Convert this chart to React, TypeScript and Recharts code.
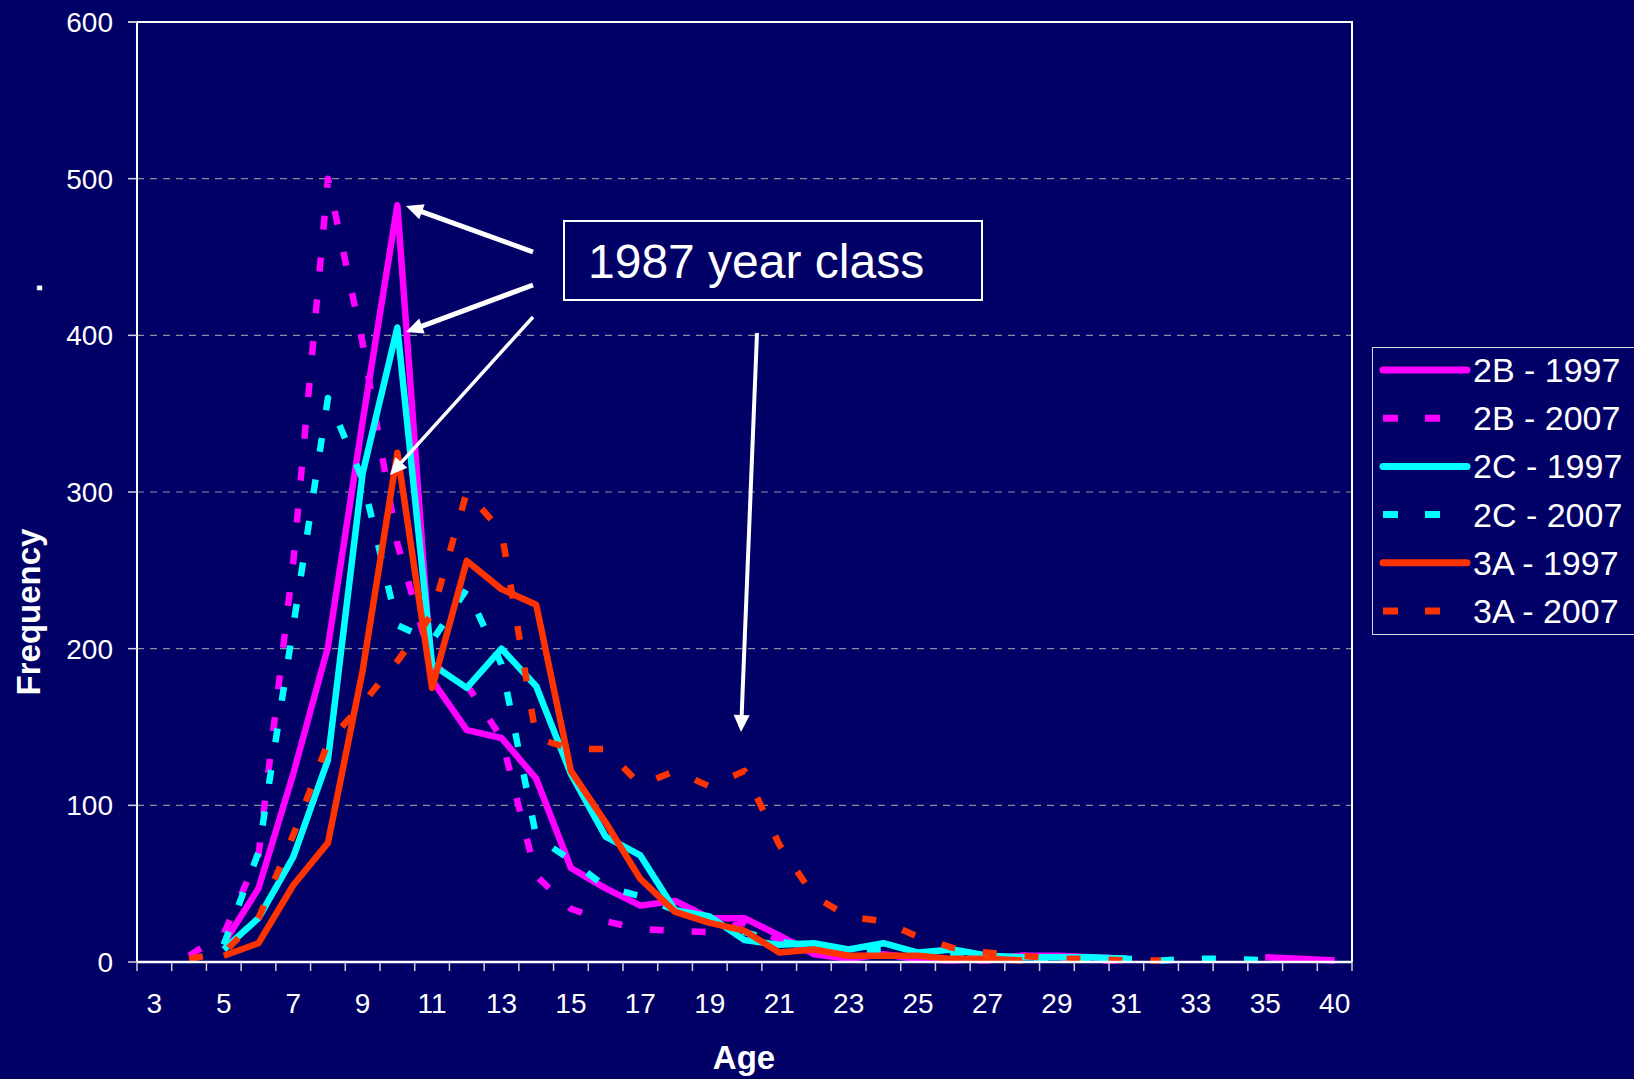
import { LineChart, Line, XAxis, YAxis, CartesianGrid, Legend } from "recharts";

// ages on the category axis (Excel sheet jumps from 36 to 40)
const ages = [3, 4, 5, 6, 7, 8, 9, 10, 11, 12, 13, 14, 15, 16, 17, 18, 19, 20, 21, 22, 23, 24, 25, 26, 27, 28, 29, 30, 31, 32, 33, 34, 35, 36, 40];

// frequency by age, one value per entry of `ages` (null = no point)
const b1997 = [null, null, 12, 47, 120, 201, 345, 483, 180, 148, 143, 117, 60, 47, 36, 39, 28, 28, 17, 5, 2, 5, 2, 1, 2, 4, 4, 3, 2, null, null, null, 3, 2, 1];
const b2007 = [null, 4, 18, 68, 255, 500, 395, 267, 190, 177, 143, 55, 34, 26, 21, 20, 19, 25, 14, 7, 3, 5, 2, 1, 1, 4, 3, 1, 1, null, null, null, null, null, null];
const c1997 = [null, null, 8, 28, 67, 129, 312, 405, 190, 175, 200, 176, 120, 80, 68, 33, 29, 14, 11, 12, 8, 12, 6, 8, 4, 3, 3, 3, 2, null, null, null, null, null, null];
const c2007 = [null, null, 11, 70, 214, 360, 308, 215, 205, 238, 190, 80, 65, 48, 42, 33, 28, 19, 13, 10, 7, 8, 4, 5, 3, 2, 2, 2, 2, 1, 2, 2, 1, null, null];
const a1997 = [null, null, 4, 12, 49, 76, 186, 325, 175, 256, 238, 228, 122, 89, 53, 32, 25, 20, 6, 8, 4, 4, 4, 2, 2, 1, null, null, null, null, null, null, null, null, null];
const a2007 = [null, 2, 6, 28, 81, 140, 165, 192, 222, 300, 275, 143, 136, 136, 113, 122, 112, 122, 75, 42, 29, 26, 16, 9, 6, 4, 2, 2, 1, 1, null, null, null, null, null];

const yTicks = [0, 100, 200, 300, 400, 500, 600];

const series = [
  { key: "b1997", name: "2B - 1997", color: "#FF00FF", dashed: false, values: b1997 },
  { key: "b2007", name: "2B - 2007", color: "#FF00FF", dashed: true, values: b2007 },
  { key: "c1997", name: "2C - 1997", color: "#00FFFF", dashed: false, values: c1997 },
  { key: "c2007", name: "2C - 2007", color: "#00FFFF", dashed: true, values: c2007 },
  { key: "a1997", name: "3A - 1997", color: "#FF3300", dashed: false, values: a1997 },
  { key: "a2007", name: "3A - 2007", color: "#FF3300", dashed: true, values: a2007 },
];

const data = ages.map((age, i) => {
  const row: Record<string, number | null> = { age };
  series.forEach((s) => {
    row[s.key] = s.values[i];
  });
  return row;
});

const W = 1634;
const H = 1079;
const BG = "#000066";
const FONT = "'Liberation Sans', Arial, Helvetica, sans-serif";
const PLOT_LEFT = 137;
const PLOT_RIGHT = 1352;
const PLOT_TOP = 22;
const PLOT_BOTTOM = 962;
const HALF = (PLOT_RIGHT - PLOT_LEFT) / ages.length / 2;
const DASH = "14 28";

// Excel style category ticks: marks between categories, every other label
function AgeTick(props: any) {
  const { x, y, payload, index } = props;
  const last = index === ages.length - 1;
  return (
    <g>
      <line x1={x - HALF} x2={x - HALF} y1={y} y2={y + 9} stroke="#d0d0dc" strokeWidth={1.5} />
      {last && <line x1={x + HALF} x2={x + HALF} y1={y} y2={y + 9} stroke="#d0d0dc" strokeWidth={1.5} />}
      {index % 2 === 0 && (
        <text x={x} y={y + 51} textAnchor="middle" fill="#ffffff" fontSize={28} fontFamily={FONT}>
          {payload.value}
        </text>
      )}
    </g>
  );
}

function LegendBox() {
  return (
    <div
      style={{
        width: 270,
        height: 288,
        boxSizing: "border-box",
        border: "1.5px solid #d8d8e0",
        background: BG,
      }}
    >
      <svg width={268} height={285}>
        {series.map((s, i) => {
          const cy = 22 + i * 48.2;
          return (
            <g key={s.key}>
              {s.dashed ? (
                <line x1={10} x2={70} y1={cy} y2={cy} stroke={s.color} strokeWidth={7} strokeDasharray="15 27" />
              ) : (
                <line x1={10} x2={94} y1={cy} y2={cy} stroke={s.color} strokeWidth={7} strokeLinecap="round" />
              )}
              <text x={100} y={cy + 12} fill="#ffffff" fontSize={34} fontFamily={FONT}>
                {s.name}
              </text>
            </g>
          );
        })}
      </svg>
    </div>
  );
}

function Arrow({ x1, y1, x2, y2, w }: { x1: number; y1: number; x2: number; y2: number; w: number }) {
  const dx = x2 - x1;
  const dy = y2 - y1;
  const len = Math.sqrt(dx * dx + dy * dy);
  const ux = dx / len;
  const uy = dy / len;
  const hl = 17;
  const hw = 8;
  const bx = x2 - ux * hl;
  const by = y2 - uy * hl;
  return (
    <g>
      <line x1={x1} y1={y1} x2={bx + ux * 2} y2={by + uy * 2} stroke="#ffffff" strokeWidth={w} />
      <polygon
        points={`${x2},${y2} ${bx - uy * hw},${by + ux * hw} ${bx + uy * hw},${by - ux * hw}`}
        fill="#ffffff"
      />
    </g>
  );
}

export default function App() {
  return (
    <div style={{ position: "absolute", left: 0, top: 0, width: W, height: H, background: BG, overflow: "hidden" }}>
      <LineChart width={W} height={H} data={data} margin={{ top: PLOT_TOP, right: W - PLOT_RIGHT, bottom: 0, left: 0 }}>
        <CartesianGrid vertical={false} stroke="#8c8c9c" strokeWidth={1.2} strokeDasharray="7 6" />
        <XAxis
          dataKey="age"
          height={H - PLOT_BOTTOM}
          interval={0}
          tickSize={0}
          tickMargin={0}
          tickLine={false}
          padding={{ left: HALF, right: HALF }}
          axisLine={{ stroke: "#ffffff", strokeWidth: 2.5 }}
          tick={<AgeTick />}
        />
        <YAxis
          width={PLOT_LEFT}
          domain={[0, 600]}
          ticks={yTicks}
          interval={0}
          tickSize={9}
          tickMargin={15}
          tickLine={{ stroke: "#d0d0dc", strokeWidth: 1.5 }}
          axisLine={{ stroke: "#ffffff", strokeWidth: 2 }}
          tick={{ fill: "#ffffff", fontSize: 28, fontFamily: FONT }}
        />
        <Legend
          layout="vertical"
          align="center"
          verticalAlign="middle"
          wrapperStyle={{ left: 1372, top: 347, width: 270, height: 288 }}
          content={<LegendBox />}
        />
        {series.map((s) => (
          <Line
            key={s.key}
            type="linear"
            dataKey={s.key}
            name={s.name}
            stroke={s.color}
            strokeWidth={s.dashed ? 6.5 : 6.5}
            strokeDasharray={s.dashed ? DASH : undefined}
            strokeLinejoin="round"
            dot={false}
            activeDot={false}
            isAnimationActive={false}
          />
        ))}
      </LineChart>

      <svg width={W} height={H} style={{ position: "absolute", left: 0, top: 0, pointerEvents: "none" }}>
        {/* plot area border, top and right */}
        <polyline
          points={`${PLOT_LEFT},${PLOT_TOP} ${PLOT_RIGHT},${PLOT_TOP} ${PLOT_RIGHT},${PLOT_BOTTOM}`}
          fill="none"
          stroke="#ffffff"
          strokeWidth={2}
        />
        <line x1={PLOT_LEFT - 9} x2={PLOT_LEFT} y1={PLOT_TOP} y2={PLOT_TOP} stroke="#d0d0dc" strokeWidth={1.5} />

        <text
          transform="translate(40,612) rotate(-90)"
          textAnchor="middle"
          fill="#ffffff"
          fontSize={33}
          fontWeight="bold"
          fontFamily={FONT}
        >
          Frequency
        </text>
        <text transform="translate(42,288) rotate(-90)" textAnchor="middle" fill="#ffffff" fontSize={33} fontWeight="bold" fontFamily={FONT}>
          .
        </text>
        <text x={744} y={1069} textAnchor="middle" fill="#ffffff" fontSize={33} fontWeight="bold" fontFamily={FONT}>
          Age
        </text>

        <rect x={564} y={221} width={418} height={79} fill={BG} stroke="#ffffff" strokeWidth={2} />
        <text x={588} y={278} fill="#ffffff" fontSize={48} fontFamily={FONT}>
          1987 year class
        </text>

        <Arrow x1={533} y1={252} x2={406} y2={206} w={5} />
        <Arrow x1={533} y1={285} x2={406} y2={332} w={5} />
        <Arrow x1={533} y1={317} x2={390} y2={475} w={3.5} />
        <Arrow x1={757} y1={333} x2={741} y2={732} w={4} />
      </svg>
    </div>
  );
}
